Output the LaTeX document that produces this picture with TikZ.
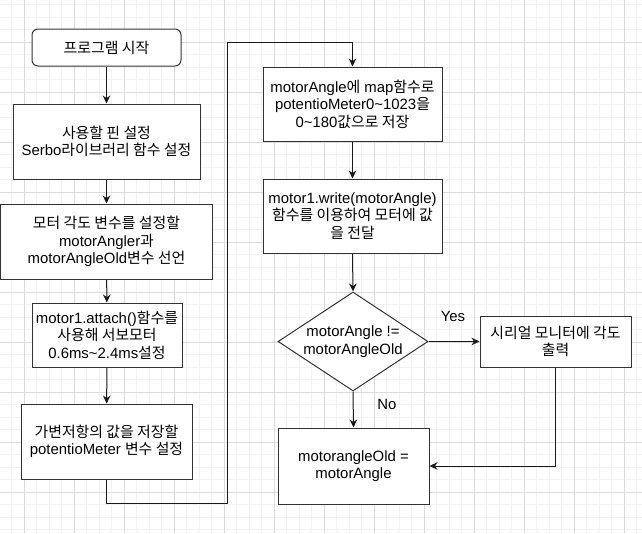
\documentclass[tikz,border=0pt]{standalone}
\usepackage{fontspec}
\setmainfont{Liberation Sans}
\newfontfamily\krfont{Noto Sans CJK KR}
\newcommand{\kor}[1]{{\krfont #1}}
\usetikzlibrary{arrows.meta,shapes.geometric}
\tikzset{>={Stealth[length=8pt,width=7.5pt]}}
\tikzset{
  block/.style={draw=black!80,line width=1pt,fill=white,align=center,inner sep=0pt,
                font=\fontsize{14.9}{17.5}\selectfont},
  flow/.style={->,line width=1pt,black!90},
  gridminor/.style={black!5,line width=0.8pt},
  gridmajor/.style={black!14,line width=0.8pt}
}

\begin{document}
\begin{tikzpicture}[x=1pt,y=-1pt]
\useasboundingbox (0,0) rectangle (642,533);
\fill[white] (0,0) rectangle (642,533);
\foreach \x in {-1,11.5,...,642} \draw[gridminor] (\x,0) -- (\x,533);
\foreach \y in {4.5,17,...,533} \draw[gridminor] (0,\y) -- (642,\y);
\foreach \x in {24,74,...,624} \draw[gridmajor] (\x,0) -- (\x,533);
\foreach \y in {42,92,...,492} \draw[gridmajor] (0,\y) -- (642,\y);

\node (start) [block,rounded corners=6pt,minimum width=149pt,minimum height=37pt] at (106.5,47.5) {\kor{프로그램 시작}};
\node (pins) [block,minimum width=187pt,minimum height=75pt] at (106.5,141.5) {\kor{사용할 핀 설정}\\Serbo\kor{라이브러리 함수 설정}};
\node (vars) [block,minimum width=212pt,minimum height=75pt] at (106.5,241.5) {\kor{모터 각도 변수를 설정할}\\motorAngler\kor{과}\\motorAngleOld\kor{변수 선언}};
\node (attach) [block,minimum width=150pt,minimum height=64pt] at (107,335) {motor1.attach()\kor{함수를}\\\kor{사용해 서보모터}\\0.6ms\textasciitilde2.4ms\kor{설정}};
\node (pot) [block,minimum width=171pt,minimum height=75pt] at (106.5,441.5) {\kor{가변저항의 값을 저장할}\\potentioMeter \kor{변수 설정}};
\node (map) [block,minimum width=179pt,minimum height=74pt] at (352.5,104) {motorAngle\kor{에} map\kor{함수로}\\potentioMeter0\textasciitilde1023\kor{을}\\0\textasciitilde180\kor{값으로 저장}};
\node (write) [block,minimum width=179pt,minimum height=74pt] at (352.5,216) {motor1.write(motorAngle)\\\kor{함수를 이용하여 모터에 값}\\\kor{을 전달}};
\node (check) [block,diamond,aspect=1.5,minimum width=150pt,minimum height=99pt] at (353,341.5) {motorAngle !=\\motorAngleOld};
\node (serial) [block,minimum width=151pt,minimum height=51pt] at (555.5,341.5) {\kor{시리얼 모니터에 각도}\\\kor{출력}};
\node (old) [block,minimum width=151pt,minimum height=76pt] at (353.5,466) {motorangleOld =\\motorAngle};
\coordinate (loopdown) at (227,503);
\coordinate (loopup) at (227,42);

\draw[flow] (start) -- (pins);
\draw[flow] (pins) -- (vars);
\draw[flow] (vars) -- (attach);
\draw[flow] (attach) -- (pot);
\draw[flow] (pot.south) |- (loopdown) -- (loopup) -| (map.north);
\draw[flow] (map) -- (write);
\draw[flow] (write.south) -- (check.north);
\draw[flow] (check.east) -- (serial.west);
\draw[flow] (check.south) -- (old.north);
\draw[flow] (serial.south) |- (old.east);
\node (yes) [font=\fontsize{14.9}{17.5}\selectfont] at (453,316) {Yes};
\node (no) [font=\fontsize{14.9}{17.5}\selectfont] at (387,404) {No};
\end{tikzpicture}
\end{document}
